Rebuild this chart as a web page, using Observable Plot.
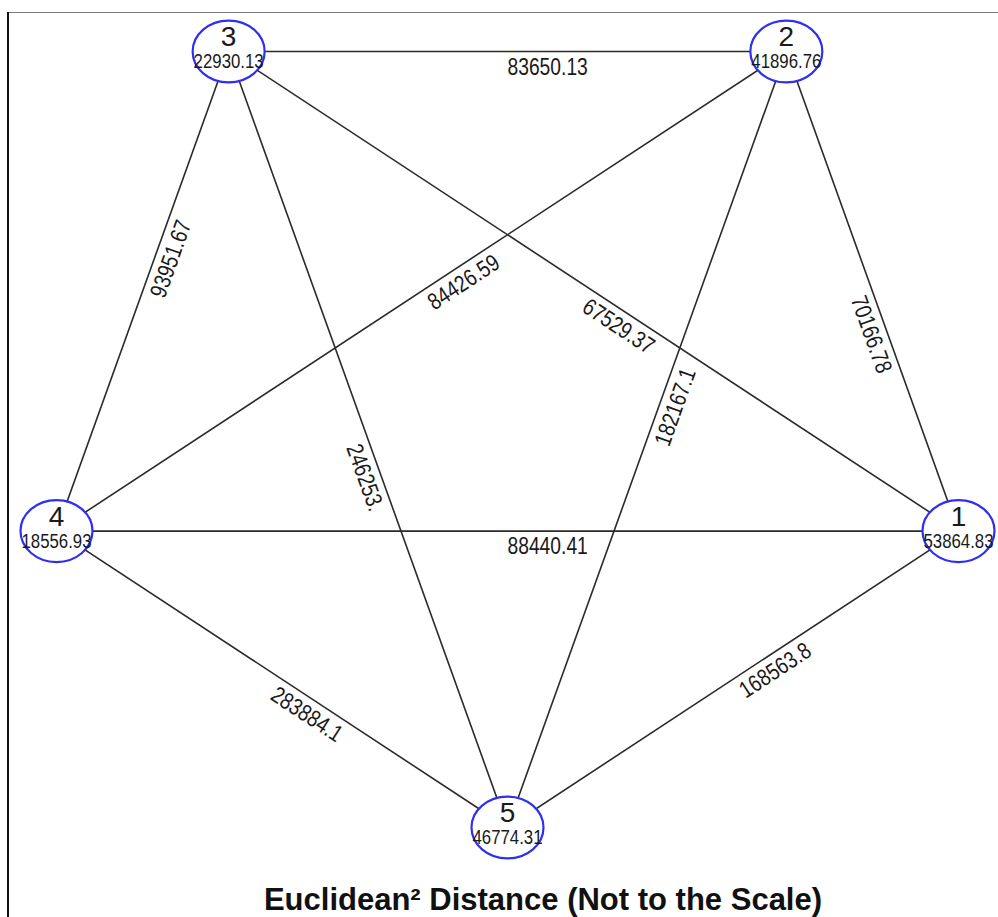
<!DOCTYPE html>
<html>
<head>
<meta charset="utf-8">
<script src="https://cdn.jsdelivr.net/npm/d3@7"></script>
<script src="https://cdn.jsdelivr.net/npm/@observablehq/plot@0.6"></script>
<style>
  html, body { margin: 0; padding: 0; background: #fff; }
  #wrap { position: relative; width: 998px; height: 917px; overflow: hidden; background: #fff; }
  #topline { position: absolute; left: 8px; top: 12px; width: 990px; height: 0; border-top: 1.5px solid #7a7a7a; }
  #leftline { position: absolute; left: 7px; top: 12px; width: 0; height: 905px; border-left: 2px solid #111; }
  #chart { position: absolute; left: 0; top: 0; }
  #title { position: absolute; left: 43px; width: 1000px; top: 884px; text-align: center;
           font: bold 31px/31px "Liberation Sans", Arial, sans-serif; color: #111; white-space: nowrap; }
</style>
</head>
<body>
<div id="wrap">
  <div id="chart"></div>
  <div id="topline"></div>
  <div id="leftline"></div>
  <div id="title">Euclidean² Distance (Not to the Scale)</div>
</div>
<script>
// Nodes: ids, layout (regular pentagon coordinates), node values
const nodeIds = ["1", "2", "3", "4", "5"];
const nodeX = [0.951, 0.588, -0.588, -0.951, 0];
const nodeY = [-0.309, 0.809, 0.809, -0.309, -1];
const nodeValues = ["53864.83", "41896.76", "22930.13", "18556.93", "46774.31"];

// Edges: endpoints and distance labels
const edgeFrom = ["3", "4", "4", "2", "4", "3", "3", "5", "4", "5"];
const edgeTo   = ["2", "1", "3", "1", "2", "1", "5", "2", "5", "1"];
const edgeLabels = ["83650.13", "88440.41", "93951.67", "70166.78", "84426.59",
                    "67529.37", "246253.", "182167.1", "283884.1", "168563.8"];

const xOpts = {domain: [-0.951, 0.951], range: [56, 958]};
const yOpts = {domain: [-1, 0.809], range: [827, 51]};
const sx = Plot.scale({x: xOpts});
const sy = Plot.scale({y: yOpts});

const nodes = nodeIds.map((id, i) => ({id, x: nodeX[i], y: nodeY[i], value: nodeValues[i]}));
const byId = new Map(nodes.map(n => [n.id, n]));
const edges = edgeFrom.map((f, i) => {
  const a = byId.get(f), b = byId.get(edgeTo[i]);
  const pdx = sx.apply(b.x) - sx.apply(a.x);
  const pdy = sy.apply(b.y) - sy.apply(a.y);
  let ang = Math.atan2(pdy, pdx) * 180 / Math.PI;
  if (ang > 90) ang -= 180;
  if (ang <= -90) ang += 180;
  return {x1: a.x, y1: a.y, x2: b.x, y2: b.y, mx: (a.x + b.x) / 2, my: (a.y + b.y) / 2, angle: ang, label: edgeLabels[i]};
});

const ellipse = {
  draw(ctx, size) {
    const r = Math.sqrt(size / Math.PI);
    const rx = r, ry = r * 0.86, k = 0.5523;
    ctx.moveTo(rx, 0);
    ctx.bezierCurveTo(rx, ry * k, rx * k, ry, 0, ry);
    ctx.bezierCurveTo(-rx * k, ry, -rx, ry * k, -rx, 0);
    ctx.bezierCurveTo(-rx, -ry * k, -rx * k, -ry, 0, -ry);
    ctx.bezierCurveTo(rx * k, -ry, rx, -ry * k, rx, 0);
    ctx.closePath();
  }
};

const sans = "'Liberation Sans', Arial, sans-serif";

const plot = Plot.plot({
  width: 998,
  height: 870,
  margin: 0,
  x: {...xOpts, axis: null},
  y: {...yOpts, axis: null},
  style: {background: "transparent"},
  marks: [
    Plot.link(edges, {x1: "x1", y1: "y1", x2: "x2", y2: "y2", stroke: "#2a2a2a", strokeWidth: 1.6}),
    Plot.text(edges, {x: "mx", y: "my", text: "label", rotate: "angle", textAnchor: "start",
      lineAnchor: "top", lineHeight: 1.4, fontSize: 23.5, fontFamily: sans, fill: "#1a1a1a"}),
    Plot.dot(nodes, {x: "x", y: "y", r: 36, symbol: ellipse, fill: "white", stroke: "#2f2ff2", strokeWidth: 2.2}),
    Plot.text(nodes, {x: "x", y: "y", text: "id", dy: -14, fontSize: 28, fontFamily: sans, fill: "#1a1a1a"}),
    Plot.text(nodes, {x: "x", y: "y", text: "value", dy: 10, fontSize: 20.5, fontFamily: sans, fill: "#1a1a1a"})
  ]
});

// Narrow (condensed) glyphs as in the reference: compress edge labels and node values horizontally
const textGroups = plot.querySelectorAll('g[aria-label="text"]');
[textGroups[0], textGroups[2]].forEach(g => {
  if (!g) return;
  g.querySelectorAll("text").forEach(t => {
    const tr = t.getAttribute("transform") || "";
    t.setAttribute("transform", tr + " scale(0.82,1)");
  });
});
document.getElementById("chart").appendChild(plot);
</script>
</body>
</html>
